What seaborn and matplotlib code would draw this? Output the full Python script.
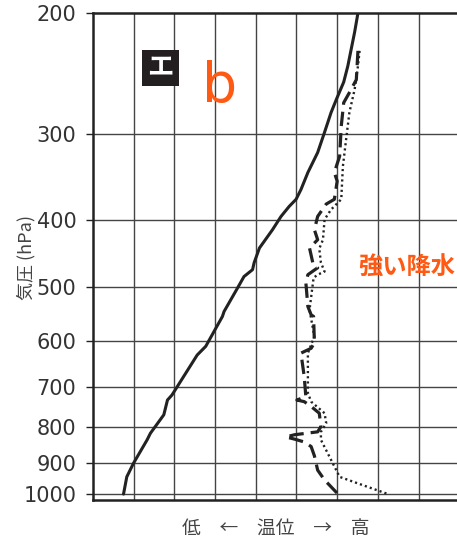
import numpy as np
import pandas as pd
import matplotlib
matplotlib.use("Agg")
import matplotlib.pyplot as plt
from matplotlib.patches import Rectangle
import seaborn as sns

# ---- data (theta in grid units, pressure in hPa) ----
solid_p = [200, 213, 239, 252, 267, 279, 298, 319, 341, 361, 373, 382, 395, 413, 439,
           461, 472, 483, 502, 543, 552, 610, 628, 718, 730, 767, 816, 834, 902, 944, 1000]
solid_t = [6.51, 6.43, 6.26, 6.16, 5.98, 5.85, 5.69, 5.52, 5.28, 5.11, 4.99, 4.82, 4.62, 4.41, 4.09,
           3.96, 3.92, 3.71, 3.55, 3.22, 3.18, 2.77, 2.56, 1.94, 1.83, 1.74, 1.41, 1.33, 0.995, 0.83, 0.75]

dash_p = [227, 250, 261, 270, 292, 323, 341, 351, 373, 379, 395, 413, 427, 439,
          461, 469, 480, 493, 534, 549, 552, 603, 614, 624, 675, 722, 730, 734, 746, 763,
          798, 812, 820, 826, 832, 840, 853, 880, 923, 954, 1000]
dash_t = [6.51, 6.47, 6.30, 6.16, 6.10, 6.06, 5.93, 6.00, 5.93, 5.73, 5.52, 5.44, 5.52, 5.32,
          5.40, 5.52, 5.28, 5.23, 5.28, 5.36, 5.42, 5.44, 5.36, 5.11, 5.19, 5.23, 5.01, 5.19, 5.36, 5.56,
          5.60, 5.52, 4.95, 4.74, 4.95, 5.19, 5.36, 5.44, 5.52, 5.69, 6.02]

dot_p = [227, 239, 258, 279, 305, 334, 373, 386, 399, 427, 440, 461, 475, 480, 485,
         540, 590, 624, 713, 734, 763, 789, 812, 834, 892, 944, 965, 1000]
dot_t = [6.55, 6.51, 6.43, 6.30, 6.22, 6.14, 6.10, 5.85, 5.69, 5.65, 5.56, 5.60, 5.69, 5.52, 5.42,
         5.32, 5.44, 5.28, 5.28, 5.36, 5.69, 5.73, 5.60, 5.60, 5.85, 6.06, 6.51, 7.25]

yticks = [200, 300, 400, 500, 600, 700, 800, 900, 1000]
ytick_labels = [str(v) for v in yticks]
xgrid = [1, 2, 3, 4, 5, 6, 7, 8]

solid = pd.DataFrame({"theta": solid_t, "p": solid_p})
dash = pd.DataFrame({"theta": dash_t, "p": dash_p})
dot = pd.DataFrame({"theta": dot_t, "p": dot_p})

sns.set_theme(style="white")
plt.rcParams["font.family"] = ["DejaVu Sans", "Noto Sans CJK JP"]

W, H = 457, 542
fig = plt.figure(figsize=(W / 100, H / 100), dpi=100)
ax = fig.add_axes([93 / W, 1 - 500 / H, 1 - 93 / W + 0.005, (500 - 13) / H])

ink = "#222222"
sns.lineplot(data=solid, x="theta", y="p", sort=False, estimator=None, ax=ax,
             color=ink, lw=2.2)
sns.lineplot(data=dash, x="theta", y="p", sort=False, estimator=None, ax=ax,
             color=ink, lw=2.3, dashes=False, linestyle=(0, (4.5, 2.2)))
sns.lineplot(data=dot, x="theta", y="p", sort=False, estimator=None, ax=ax,
             color=ink, lw=1.7, linestyle=(0, (0.9, 1.3)))

ax.set_yscale("log")
ax.set_ylim(1020, 200)
ax.set_xlim(0, 9)
ax.minorticks_off()
ax.set_yticks(yticks)
ax.set_yticklabels(ytick_labels, fontsize=15, color="#333333")
ax.set_xticks([])

for xv in xgrid:
    ax.axvline(xv, color="#444444", lw=1.0, zorder=0.5)
for yv in yticks[1:]:
    ax.axhline(yv, color="#444444", lw=1.0, zorder=0.5)

for s in ["left", "top", "bottom"]:
    ax.spines[s].set_visible(True)
    ax.spines[s].set_color("#222222")
    ax.spines[s].set_linewidth(1.8)
ax.spines["right"].set_visible(False)

ax.tick_params(axis="y", which="major", length=5, width=1, color="#222222",
               labelsize=15, labelcolor="#333333", pad=7, direction="out", left=True)
ax.set_xlabel("")
ax.set_ylabel("")

fig.text(26 / W, 1 - 258 / H, "気圧 (hPa)", rotation=90, ha="center", va="center",
         fontsize=13, color="#444444", family=["Noto Sans CJK JP", "DejaVu Sans"])
fig.text(276 / W, 1 - 529 / H, "低\u3000←\u3000温位\u3000→\u3000高", ha="center", va="center",
         fontsize=13.5, color="#444444", family=["Noto Sans CJK JP", "DejaVu Sans"])

# label box
fig.patches.append(Rectangle((142 / W, 1 - 86 / H), 37 / W, 36 / H, transform=fig.transFigure,
                             facecolor="#231f20", edgecolor="none", zorder=5))
fig.text(160.5 / W, 1 - 68 / H, "エ", ha="center", va="center", fontsize=19, color="white",
         fontweight="bold", family=["Noto Sans CJK JP", "DejaVu Sans"], zorder=6)

orange = "#FF5A14"
fig.text(220 / W, 1 - 87 / H, "b", ha="center", va="center", fontsize=40, color=orange)
fig.text(358 / W, 1 - 268 / H, "強い降水", ha="left", va="center", fontsize=17.5, color=orange,
         fontweight="bold", family=["Noto Sans CJK JP", "DejaVu Sans"])

fig.savefig("out.png", dpi=100)
